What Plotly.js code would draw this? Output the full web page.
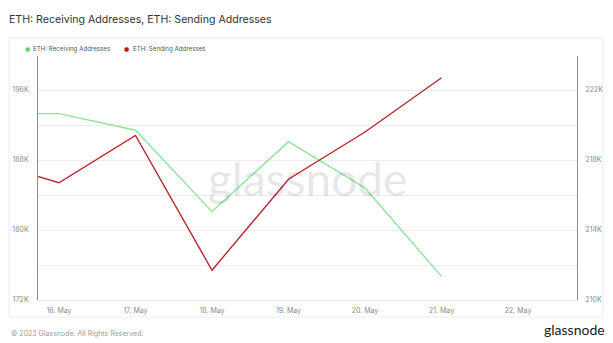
<!DOCTYPE html>
<html>
<head>
<meta charset="utf-8">
<script src="https://cdn.plot.ly/plotly-3.0.1.min.js"></script>
<style>
  html, body { margin: 0; padding: 0; background: #ffffff; }
  #chart { width: 613px; height: 343px; }
</style>
</head>
<body>
<div id="chart"></div>
<script>
// Daily on-chain address activity for ETH
const dates = ['2023-05-15', '2023-05-16', '2023-05-17', '2023-05-18', '2023-05-19', '2023-05-20', '2023-05-21'];
const receivingAddresses = [193300, 193300, 191400, 182100, 190100, 184800, 174700];
const sendingAddresses = [218000, 216700, 219400, 211700, 216900, 219600, 222700];
const receivingName = 'ETH: Receiving Addresses';
const sendingName = 'ETH: Sending Addresses';
const chartTitle = 'ETH: Receiving Addresses, ETH: Sending Addresses';
const footerText = '© 2023 Glassnode. All Rights Reserved.';
const brandText = 'glassnode';

const GREEN = '#8fe39c';
const RED = '#b8262f';
const FONT = 'Inter, "Open Sans", sans-serif';

const traces = [
  {
    x: dates, y: receivingAddresses, name: receivingName,
    type: 'scatter', mode: 'lines', yaxis: 'y',
    line: { color: GREEN, width: 1.4 },
    showlegend: false, hoverinfo: 'skip'
  },
  {
    x: dates, y: sendingAddresses, name: sendingName,
    type: 'scatter', mode: 'lines', yaxis: 'y2',
    line: { color: RED, width: 1.4 },
    showlegend: false, hoverinfo: 'skip'
  }
];

const tickFont = { family: FONT, size: 7, color: '#8a8a8a' };

const layout = {
  width: 613, height: 343,
  margin: { l: 38, r: 36, t: 56, b: 43 },
  paper_bgcolor: '#ffffff', plot_bgcolor: '#ffffff',
  title: {
    text: chartTitle,
    x: 9 / 613, xanchor: 'left', xref: 'container',
    y: 1 - 19 / 343, yanchor: 'middle', yref: 'container',
    font: { family: FONT, size: 10.6, color: '#333333' }
  },
  xaxis: {
    type: 'date',
    range: ['2023-05-15 17:25', '2023-05-22 18:30'],
    tickvals: ['2023-05-16', '2023-05-17', '2023-05-18', '2023-05-19', '2023-05-20', '2023-05-21', '2023-05-22'],
    ticktext: ['16. May', '17. May', '18. May', '19. May', '20. May', '21. May', '22. May'],
    showgrid: false, zeroline: false,
    showline: true, linecolor: '#e3e3e3', linewidth: 1,
    ticks: 'outside', ticklen: 4, tickcolor: 'rgba(0,0,0,0)',
    tickfont: tickFont, fixedrange: true
  },
  yaxis: {
    range: [172000, 199886],
    tickvals: [172000, 180000, 188000, 196000],
    ticktext: ['172K', '180K', '188K', '196K'],
    showgrid: true, gridcolor: '#ececec', gridwidth: 1,
    minor: { tickvals: [176000, 184000, 192000], showgrid: true, gridcolor: '#ececec', gridwidth: 1, ticks: '' },
    zeroline: false,
    showline: true, linecolor: '#8c8c8c', linewidth: 1,
    ticks: 'outside', ticklen: 7, tickcolor: 'rgba(0,0,0,0)',
    tickfont: tickFont, fixedrange: true
  },
  yaxis2: {
    overlaying: 'y', side: 'right',
    range: [210000, 223943],
    tickvals: [210000, 214000, 218000, 222000],
    ticktext: ['210K', '214K', '218K', '222K'],
    showgrid: false, zeroline: false,
    showline: true, linecolor: '#8c8c8c', linewidth: 1,
    ticks: 'outside', ticklen: 6, tickcolor: 'rgba(0,0,0,0)',
    tickfont: tickFont, fixedrange: true
  },
  shapes: [
    {
      type: 'rect', xref: 'paper', yref: 'paper', layer: 'below',
      x0: -29 / 539, x1: (603 - 38) / 539,
      y0: -(317 - 300) / 244, y1: (300 - 38) / 244,
      line: { color: '#ececec', width: 1 }, fillcolor: 'rgba(0,0,0,0)'
    }
  ],
  annotations: [
    // legend
    { xref: 'paper', yref: 'paper', x: (27 - 38) / 539, y: (300 - 49) / 244, xanchor: 'center', yanchor: 'middle',
      text: '●', showarrow: false, font: { family: 'DejaVu Sans', size: 6, color: '#5fd56f' } },
    { xref: 'paper', yref: 'paper', x: (31 - 38) / 539, y: (300 - 49) / 244, xanchor: 'left', yanchor: 'middle',
      text: receivingName, showarrow: false, font: { family: FONT, size: 6.2, color: '#555555' } },
    { xref: 'paper', yref: 'paper', x: (126 - 38) / 539, y: (300 - 49) / 244, xanchor: 'center', yanchor: 'middle',
      text: '●', showarrow: false, font: { family: 'DejaVu Sans', size: 6, color: '#c0141c' } },
    { xref: 'paper', yref: 'paper', x: (131 - 38) / 539, y: (300 - 49) / 244, xanchor: 'left', yanchor: 'middle',
      text: sendingName, showarrow: false, font: { family: FONT, size: 6.2, color: '#555555' } },
    // centred watermark
    { xref: 'paper', yref: 'paper', x: (307 - 38) / 539, y: (300 - 178) / 244, xanchor: 'center', yanchor: 'middle',
      text: brandText, showarrow: false, font: { family: 'Lato, Inter, sans-serif', size: 46, color: 'rgba(0,0,0,0.11)' } },
    // footer
    { xref: 'paper', yref: 'paper', x: -29 / 539, y: -(333 - 300) / 244, xanchor: 'left', yanchor: 'middle',
      text: footerText, showarrow: false, font: { family: FONT, size: 7, color: '#9a9a9a' } },
    { xref: 'paper', yref: 'paper', x: (607 - 38) / 539, y: -(329 - 300) / 244, xanchor: 'right', yanchor: 'middle',
      text: brandText, showarrow: false, font: { family: 'Lato, Inter, sans-serif', size: 14, color: '#1a1a1a' } }
  ]
};

Plotly.newPlot('chart', traces, layout, { staticPlot: true, displayModeBar: false });
</script>
</body>
</html>
